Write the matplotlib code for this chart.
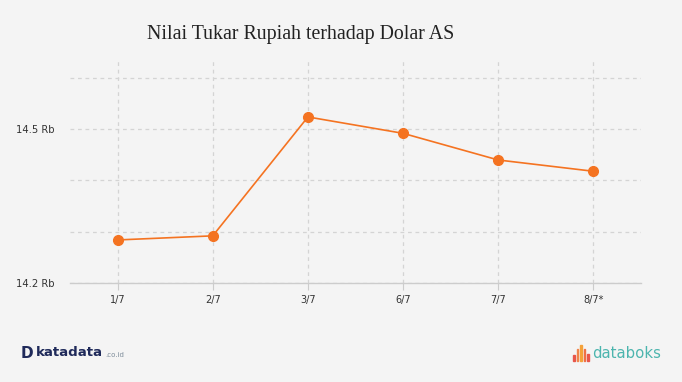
import matplotlib.pyplot as plt
import numpy as np

# --- data ---
tanggal = ["1/7", "2/7", "3/7", "6/7", "7/7", "8/7*"]
kurs = [14.284, 14.292, 14.524, 14.492, 14.440, 14.418]   # ribu rupiah per USD
grid_y = [14.2, 14.3, 14.4, 14.5, 14.6]
label_y = {14.2: "14.2 Rb", 14.5: "14.5 Rb"}

BG = "#f4f4f4"
ORANGE = "#f47321"

fig = plt.figure(figsize=(6.82, 3.82), dpi=100, facecolor=BG)
ax = fig.add_axes([70 / 682, 99 / 382, 571 / 682, 225 / 382], facecolor=BG)

x = np.arange(len(tanggal))
ax.plot(x, kurs, color=ORANGE, lw=1.2, marker="o", markersize=7, zorder=3)

ax.set_xlim(-0.5, len(tanggal) - 0.5)
ax.set_ylim(14.2, 14.639)

# grid
for g in grid_y:
    ax.axhline(g, color="#d4d4d4", lw=0.9, ls=(0, (3, 3)), zorder=1)
for xi in x:
    ax.axvline(xi, color="#d4d4d4", lw=0.9, ls=(0, (3, 3)), zorder=1)

for s in ["top", "right", "left"]:
    ax.spines[s].set_visible(False)
ax.spines["bottom"].set_color("#cccccc")
ax.spines["bottom"].set_linewidth(1)

ax.set_xticks(x)
ax.set_xticklabels(tanggal, fontsize=7, color="#333333")
ax.tick_params(axis="x", length=5, color="#cccccc", pad=4)
ax.set_yticks(list(label_y.keys()))
ax.set_yticklabels(list(label_y.values()), fontsize=7.2, color="#333333")
ax.tick_params(axis="y", length=0, pad=11)

fig.text(301 / 682, 1 - 35 / 382, "Nilai Tukar Rupiah terhadap Dolar AS",
         family="Liberation Serif", fontsize=14.3, color="#222222",
         ha="center", va="center")

# logos as text
fig.text(21 / 682, 1 - 353 / 382, "D", fontsize=11, fontweight="bold",
         color="#1f2a5a", va="center", ha="left")
fig.text(36 / 682, 1 - 353 / 382, "katadata", fontsize=9.6, fontweight="bold",
         color="#1f2a5a", va="center", ha="left")
fig.text(105 / 682, 1 - 355 / 382, ".co.id", fontsize=5,
         color="#7d8c9a", va="center", ha="left")

bars_h = [6, 12, 16, 12, 7]
bars_c = ["#e8564a", "#f0844a", "#f4a23a", "#ef7045", "#e8564a"]
for i, (h, c) in enumerate(zip(bars_h, bars_c)):
    fig.patches.append(plt.Rectangle(((573 + i * 3.6) / 682, (382 - 361) / 382),
                                     1.6 / 682, h / 382, color=c,
                                     transform=fig.transFigure, figure=fig))
fig.text(592 / 682, 1 - 353 / 382, "databoks", fontsize=10.7,
         color="#4cb5ae", va="center", ha="left")

fig.savefig("out.png", dpi=100, facecolor=BG)
